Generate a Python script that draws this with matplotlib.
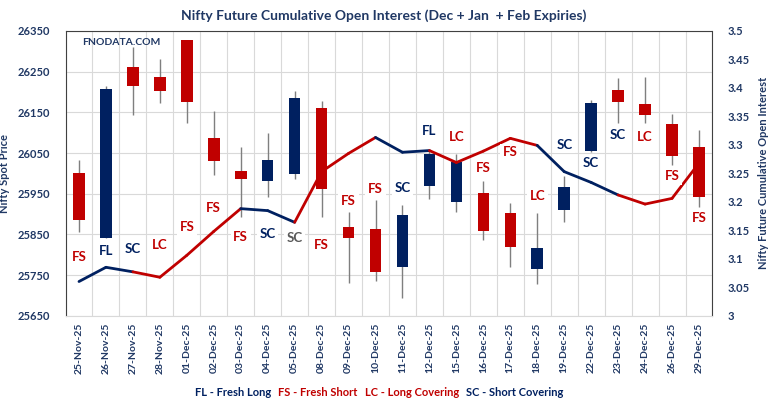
import numpy as np
import matplotlib.pyplot as plt

plt.rcParams['font.family'] = ['Lato', 'DejaVu Sans']
plt.rcParams['font.weight'] = 'bold'

# daily data
dates = ["25-Nov-25", "26-Nov-25", "27-Nov-25", "28-Nov-25", "01-Dec-25", "02-Dec-25",
         "03-Dec-25", "04-Dec-25", "05-Dec-25", "08-Dec-25", "09-Dec-25", "10-Dec-25",
         "11-Dec-25", "12-Dec-25", "15-Dec-25", "16-Dec-25", "17-Dec-25", "18-Dec-25",
         "19-Dec-25", "22-Dec-25", "23-Dec-25", "24-Dec-25", "26-Dec-25", "29-Dec-25"]

spot_open = [26000, 25842, 26262, 26238, 26327, 26088, 26006, 25981, 25999, 26161, 25867, 25863,
             25770, 25969, 25929, 25952, 25902, 25765, 25910, 26055, 26206, 26171, 26121, 26064]
spot_high = [26033, 26215, 26311, 26280, 26327, 26154, 26065, 26098, 26202, 26178, 25904, 25934,
             25922, 26055, 26047, 25980, 25926, 25902, 25993, 26180, 26234, 26236, 26145, 26106]
spot_low = [25856, 25842, 26143, 26172, 26123, 25997, 25892, 25941, 25986, 25892, 25730, 25735,
            25693, 25938, 25906, 25835, 25769, 25727, 25881, 26052, 26123, 26123, 26020, 25918]
spot_close = [25885, 26207, 26215, 26203, 26175, 26030, 25986, 26033, 26186, 25961, 25840, 25757,
              25898, 26048, 26029, 25858, 25818, 25816, 25966, 26173, 26176, 26143, 26043, 25941]

oi = [3.060, 3.085, 3.077, 3.0675, 3.106, 3.148, 3.188, 3.1845, 3.164, 3.253, 3.285, 3.313,
      3.287, 3.290, 3.269, 3.289, 3.3115, 3.299, 3.253, 3.234, 3.212, 3.196, 3.206, 3.268]

codes = ["FS", "FL", "SC", "LC", "FS", "FS", "FS", "SC", "SC", "FS", "FS", "FS",
         "SC", "FL", "LC", "FS", "FS", "LC", "SC", "SC", "SC", "LC", "FS", "FS"]

# label offsets from the OI point (pixels, + is up)
label_dy = [25, 16, 23, 32, 28, 23, -28, -23, -16, -73, -48, -52,
            -36, 20, 26, -17, -14, -51, 27, 19, 60, 67, 22, -55]

RED = '#C00000'
NAVY = '#002060'
TXT = '#203864'
code_color = {"FS": RED, "LC": RED, "FL": NAVY, "SC": NAVY}

x = np.arange(len(dates))
o = np.array(spot_open)
c = np.array(spot_close)

fig = plt.figure(figsize=(7.68, 4.04), dpi=100)
ax = fig.add_axes([0.0853, 0.2186, 0.8424, 0.7047])
ax2 = ax.twinx()

# candles
ax.vlines(x, spot_low, spot_high, color='#7f7f7f', lw=1, zorder=2)
body_col = [NAVY if cc > oo else RED for oo, cc in zip(o, c)]
ax.bar(x, np.abs(c - o), bottom=np.minimum(o, c), width=0.43, color=body_col, zorder=3)

ax.set_xlim(-0.5, len(dates) - 0.5)
ax.set_ylim(25650, 26350)
ax.set_yticks(np.arange(25650, 26351, 100))
ax.set_xticks(x)
ax.set_xticklabels(dates, rotation=90, fontsize=7.5, color=TXT, fontweight='bold')
ax.set_xticks(np.arange(-0.5, len(dates), 1), minor=True)
ax.tick_params(axis='x', which='both', length=0, pad=5)
ax.tick_params(axis='y', length=0, pad=11, labelsize=8, labelcolor=TXT)
ax.grid(which='minor', axis='x', color='#d9d9d9', lw=0.8)
ax.grid(which='major', axis='y', color='#d9d9d9', lw=0.8)
ax.set_axisbelow(True)
for s in ax.spines.values():
    s.set_visible(False)
ax.set_ylabel("Nifty Spot Price", color=TXT, fontsize=8, fontweight='bold')
ax.yaxis.set_label_coords(-0.086, 0.5)

# OI line, each segment coloured by the day's action
for i in range(1, len(oi)):
    ax2.plot([x[i - 1], x[i]], [oi[i - 1], oi[i]], color=code_color[codes[i]], lw=2,
             solid_capstyle='round', zorder=3)

for i, code in enumerate(codes):
    col = code_color[code]
    if i == 8:
        col = '#595959'
    ax2.annotate(code, (x[i], oi[i]), xytext=(0, label_dy[i]), textcoords='offset pixels',
                 ha='center', va='center', fontsize=9.5, fontweight='bold', color=col,
                 bbox=dict(boxstyle='square,pad=0.2', fc='white', ec='none'),
                 zorder=6, annotation_clip=False)

ax2.set_ylim(3.0, 3.5)
yt = np.round(np.arange(3.0, 3.501, 0.05), 2)
ax2.set_yticks(yt)
ax2.set_yticklabels([f"{v:g}" for v in yt])
ax2.tick_params(axis='y', length=0, pad=11, labelsize=8, labelcolor=TXT)
ax2.set_ylabel("Nifty Future Cumulative Open Interest", color=TXT, fontsize=8,
               fontweight='bold', rotation=90)
ax2.yaxis.set_label_coords(1.071, 0.5)
for side in ['top', 'left', 'right']:
    ax2.spines[side].set_linestyle((0, (1, 1)))
    ax2.spines[side].set_color('#404040')
    ax2.spines[side].set_linewidth(0.8)
ax2.spines['bottom'].set_color('#d9d9d9')

ax.text(0.026, 0.958, "FNODATA.COM", transform=ax.transAxes, fontsize=7.5,
        fontweight='bold', color=TXT, va='center', zorder=5)

fig.text(0.5, 0.962, "Nifty Future Cumulative Open Interest (Dec + Jan  + Feb Expiries)",
         ha='center', va='center', fontsize=10, fontweight='bold', color=TXT)

# legend line at the bottom, pieces chained left to right
legend_parts = [("FL - Fresh Long", NAVY), ("FS - Fresh Short", RED),
                ("LC - Long Covering", RED), ("SC - Short Covering", NAVY)]
prev = fig.text(195 / 768, 1 - 392 / 404, legend_parts[0][0], color=legend_parts[0][1],
                fontsize=8, fontweight='bold', va='center', ha='left')
for txt, col in legend_parts[1:]:
    prev = fig.add_artist(plt.Annotation(txt, xy=(1, 0.5), xycoords=prev, xytext=(7, 0),
                                         textcoords='offset pixels', va='center', ha='left',
                                         color=col, fontsize=8, fontweight='bold'))

fig.savefig("out.png", dpi=100, facecolor='white')
